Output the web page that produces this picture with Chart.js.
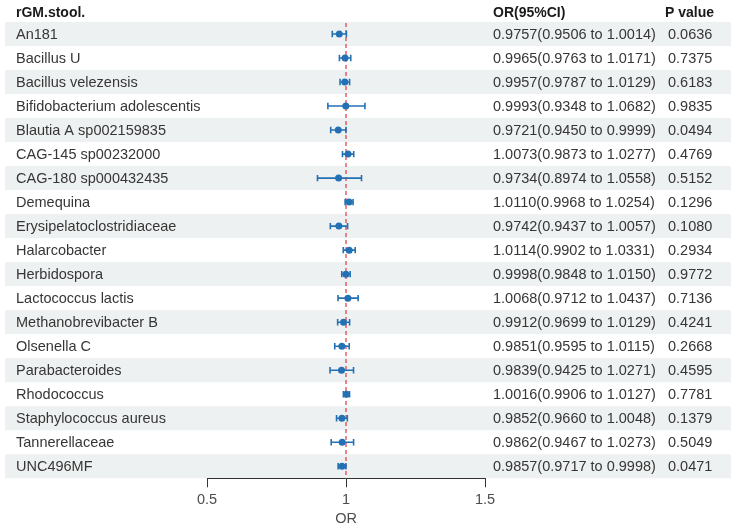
<!DOCTYPE html>
<html>
<head>
<meta charset="utf-8">
<script src="https://cdn.jsdelivr.net/npm/chart.js@4/dist/chart.umd.min.js"></script>
<style>
html,body{margin:0;padding:0;background:#fff;}
#wrap{width:738px;height:527px;position:relative;}
</style>
</head>
<body>
<div id="wrap"><canvas id="c" width="738" height="527"></canvas></div>
<script>
const categories = ["An181","Bacillus U","Bacillus velezensis","Bifidobacterium adolescentis","Blautia A sp002159835","CAG-145 sp00232000","CAG-180 sp000432435","Demequina","Erysipelatoclostridiaceae","Halarcobacter","Herbidospora","Lactococcus lactis","Methanobrevibacter B","Olsenella C","Parabacteroides","Rhodococcus","Staphylococcus aureus","Tannerellaceae","UNC496MF"];
const orValues = [0.9757,0.9965,0.9957,0.9993,0.9721,1.0073,0.9734,1.0110,0.9742,1.0114,0.9998,1.0068,0.9912,0.9851,0.9839,1.0016,0.9852,0.9862,0.9857];
const ciLow = [0.9506,0.9763,0.9787,0.9348,0.9450,0.9873,0.8974,0.9968,0.9437,0.9902,0.9848,0.9712,0.9699,0.9595,0.9425,0.9906,0.9660,0.9467,0.9717];
const ciHigh = [1.0014,1.0171,1.0129,1.0682,0.9999,1.0277,1.0558,1.0254,1.0057,1.0331,1.0150,1.0437,1.0129,1.0115,1.0271,1.0127,1.0048,1.0273,0.9998];
const pValues = ["0.0636","0.7375","0.6183","0.9835","0.0494","0.4769","0.5152","0.1296","0.1080","0.2934","0.9772","0.7136","0.4241","0.2668","0.4595","0.7781","0.1379","0.5049","0.0471"];
const xTicks = [0.5, 1, 1.5];
const refValue = 1;
const headers = {label: "rGM.stool.", or: "OR(95%CI)", p: "P value"};
const xTitle = "OR";

const FONT = "'Liberation Sans', Arial, sans-serif";
const BLUE = "#2370b5";

const points = orValues.map((v, i) => ({x: v, y: i}));

const decor = {
  id: 'decor',
  beforeDraw(chart) {
    const ctx = chart.ctx, y = chart.scales.y;
    ctx.save();
    ctx.fillStyle = "#eef1f1";
    categories.forEach((c, i) => {
      if (i % 2 === 0) {
        const t = y.getPixelForValue(i - 0.5), b = y.getPixelForValue(i + 0.5);
        ctx.fillRect(5, t, 726, b - t);
      }
    });
    ctx.restore();
  },
  beforeDatasetsDraw(chart) {
    const ctx = chart.ctx, x = chart.scales.x, y = chart.scales.y, a = chart.chartArea;
    ctx.save();
    ctx.strokeStyle = "#e0474c";
    ctx.lineWidth = 1.3;
    ctx.setLineDash([4, 3]);
    const rx = x.getPixelForValue(refValue);
    ctx.beginPath(); ctx.moveTo(rx, a.top + 1); ctx.lineTo(rx, a.bottom); ctx.stroke();
    ctx.setLineDash([]);
    ctx.strokeStyle = BLUE;
    ctx.lineWidth = 1.6;
    categories.forEach((c, i) => {
      const py = y.getPixelForValue(i);
      const l = x.getPixelForValue(ciLow[i]), h = x.getPixelForValue(ciHigh[i]);
      ctx.beginPath();
      ctx.moveTo(l, py); ctx.lineTo(h, py);
      ctx.moveTo(l, py - 3.2); ctx.lineTo(l, py + 3.2);
      ctx.moveTo(h, py - 3.2); ctx.lineTo(h, py + 3.2);
      ctx.stroke();
    });
    ctx.restore();
  },
  afterDraw(chart) {
    const ctx = chart.ctx, y = chart.scales.y;
    ctx.save();
    ctx.textBaseline = "middle";
    ctx.textAlign = "left";
    ctx.fillStyle = "#1a1a1a";
    ctx.font = "bold 14px " + FONT;
    ctx.fillText(headers.label, 16, 13);
    ctx.fillText(headers.or, 493, 13);
    ctx.fillText(headers.p, 665, 13);
    ctx.font = "14.5px " + FONT;
    ctx.fillStyle = "#363636";
    categories.forEach((c, i) => {
      const py = y.getPixelForValue(i) + 0.5;
      ctx.fillText(c, 16, py);
      const t = orValues[i].toFixed(4) + "(" + ciLow[i].toFixed(4) + " to " + ciHigh[i].toFixed(4) + ")";
      ctx.fillText(t, 493, py);
      ctx.fillText(pValues[i], 668, py);
    });
    ctx.restore();
  }
};

new Chart(document.getElementById('c'), {
  type: 'scatter',
  data: {
    datasets: [{
      data: points,
      backgroundColor: BLUE,
      borderColor: BLUE,
      pointRadius: 3.5,
      pointHoverRadius: 3.5,
      borderWidth: 0
    }]
  },
  options: {
    responsive: false,
    animation: false,
    events: [],
    layout: {padding: {left: 207, right: 253, top: 22, bottom: 0}},
    plugins: {legend: {display: false}, tooltip: {enabled: false}},
    scales: {
      x: {
        type: 'linear',
        min: xTicks[0],
        max: xTicks[xTicks.length - 1],
        afterBuildTicks(scale) { scale.ticks = xTicks.map(v => ({value: v})); },
        ticks: {
          color: "#4d4d4d",
          font: {family: FONT, size: 14.5, lineHeight: 1.0},
          padding: 5,
          maxRotation: 0,
          callback: v => String(v)
        },
        grid: {drawOnChartArea: false, drawTicks: true, tickLength: 9, color: "#333", lineWidth: 1},
        border: {display: true, color: "#333", width: 1},
        title: {display: true, text: xTitle, color: "#4d4d4d", font: {family: FONT, size: 14.5, lineHeight: 1.05}, padding: {top: 0, bottom: 0}}
      },
      y: {
        type: 'linear',
        min: -0.5,
        max: categories.length - 0.5,
        reverse: true,
        display: false
      }
    }
  },
  plugins: [decor]
});
</script>
</body>
</html>
